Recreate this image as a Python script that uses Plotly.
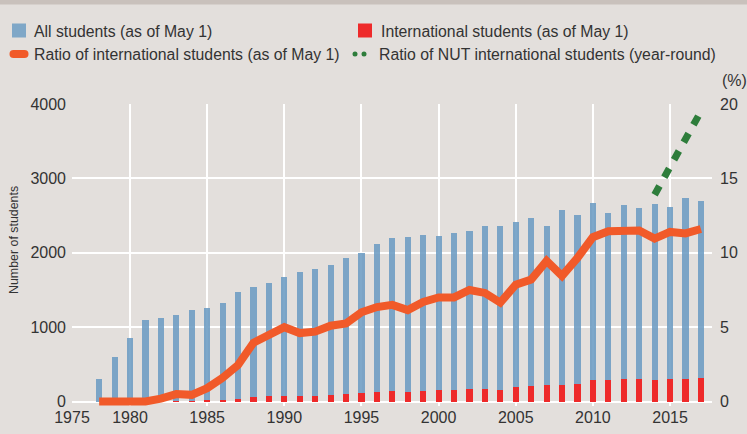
import plotly.graph_objects as go

# ---------------- data ----------------
years = list(range(1978, 2018))
all_students = [298, 594, 849, 1095, 1122, 1170, 1230, 1253, 1330, 1476,
                1541, 1593, 1680, 1740, 1785, 1830, 1925, 2000, 2115, 2195,
                2208, 2238, 2225, 2265, 2298, 2362, 2362, 2410, 2466, 2359,
                2574, 2507, 2668, 2534, 2648, 2604, 2662, 2612, 2735, 2695]
intl_students = [0, 0, 0, 0, 2, 6, 5, 10, 22, 36,
                 60, 71, 80, 76, 80, 88, 101, 114, 128, 140,
                 132, 145, 155, 160, 172, 172, 159, 191, 204, 222,
                 218, 239, 293, 293, 302, 302, 293, 298, 302, 312]
intl_ratio = [0, 0, 0, 0, 0.2, 0.5, 0.45, 0.9, 1.6, 2.45,
              3.95, 4.5, 5.0, 4.6, 4.7, 5.1, 5.25, 6.0, 6.35, 6.5,
              6.15, 6.7, 7.0, 7.0, 7.5, 7.3, 6.65, 7.85, 8.2, 9.45,
              8.45, 9.65, 11.05, 11.45, 11.45, 11.5, 10.95, 11.4, 11.3, 11.6]
nut_years = [2014, 2015, 2016, 2017]
nut_ratio = [13.9, 15.7, 17.6, 19.5]

x_tick_labels = ["1975", "1980", "1985", "1990", "1995", "2000", "2005", "2010", "2015", ""]
y_left_ticks = [0, 1000, 2000, 3000, 4000]
y_right_ticks = [0, 5, 10, 15, 20]

legend_labels = ["All students (as of May 1)",
                 "International students (as of May 1)",
                 "Ratio of international students (as of May 1)",
                 "Ratio of NUT international students (year-round)"]

# ---------------- layout geometry ----------------
W, H = 747, 434
L, R, T, B = 72, 35, 104, 28
PW, PH = W - L - R, H - T - B
X_RANGE = [1976.24, 2017.72]
x_tick_vals = [X_RANGE[0] + 0.001, 1980, 1985, 1990, 1995, 2000, 2005, 2010, 2015, X_RANGE[1] - 0.001]


def px(x):
    return (x - L) / PW


def py(y):
    return (H - B - y) / PH


BG = "#e3dfdc"
BLUE = "#6d9dc3"
RED = "#ee2a2a"
ORANGE = "#f15a29"
GREEN = "#2e7d3b"
TXT = "#333333"
FONT = "Liberation Sans, Arial, sans-serif"

fig = go.Figure()
fig.add_trace(go.Bar(x=years, y=all_students, width=0.4, marker=dict(color=BLUE, line=dict(width=0)),
                     opacity=0.88, name=legend_labels[0], showlegend=False))
fig.add_trace(go.Bar(x=years, y=intl_students, width=0.4, marker=dict(color=RED, line=dict(width=0)),
                     name=legend_labels[1], showlegend=False))
fig.add_trace(go.Scatter(x=years, y=intl_ratio, yaxis="y2", mode="lines",
                         line=dict(color=ORANGE, width=8), name=legend_labels[2], showlegend=False))
fig.add_trace(go.Scatter(x=nut_years, y=nut_ratio, yaxis="y2", mode="lines",
                         line=dict(color=GREEN, width=7, dash="10px,10px"), name=legend_labels[3],
                         showlegend=False))

shapes = []
# top band
shapes.append(dict(type="rect", xref="paper", yref="paper", x0=px(0), x1=px(W), y0=py(0), y1=py(4.5),
                   fillcolor="#c9c1bc", line=dict(width=0)))
# legend icons
shapes.append(dict(type="rect", xref="paper", yref="paper", x0=px(12), x1=px(26), y0=py(23.5), y1=py(37.5),
                   fillcolor="#7fa7c7", line=dict(width=0)))
shapes.append(dict(type="rect", xref="paper", yref="paper", x0=px(358), x1=px(372), y0=py(23.5), y1=py(37.5),
                   fillcolor=RED, line=dict(width=0)))
shapes.append(dict(type="circle", xref="paper", yref="paper", x0=px(9.5), x1=px(17.5), y0=py(50), y1=py(58),
                   fillcolor=ORANGE, line=dict(width=0)))
shapes.append(dict(type="rect", xref="paper", yref="paper", x0=px(13.5), x1=px(24.5), y0=py(50), y1=py(58),
                   fillcolor=ORANGE, line=dict(width=0)))
shapes.append(dict(type="circle", xref="paper", yref="paper", x0=px(20.5), x1=px(28.5), y0=py(50), y1=py(58),
                   fillcolor=ORANGE, line=dict(width=0)))
for cx in (355, 364):
    shapes.append(dict(type="circle", xref="paper", yref="paper", x0=px(cx - 2.5), x1=px(cx + 2.5),
                       y0=py(51.5), y1=py(56.5), fillcolor=GREEN, line=dict(width=0)))

annotations = []
leg_pos = [(32, 31), (379, 31), (32, 54), (377, 54)]
for (lx, ly), text in zip(leg_pos, legend_labels):
    annotations.append(dict(text=text, xref="paper", yref="paper", x=px(lx), y=py(ly),
                            xanchor="left", yanchor="middle", showarrow=False,
                            font=dict(family=FONT, size=15.8, color=TXT)))
annotations.append(dict(text="(%)", xref="paper", yref="paper", x=px(734), y=py(81),
                        xanchor="center", yanchor="middle", showarrow=False,
                        font=dict(family=FONT, size=16, color=TXT)))
annotations.append(dict(text="Number of students", xref="paper", yref="paper", x=px(14), y=py(240),
                        xanchor="center", yanchor="middle", textangle=-90, showarrow=False,
                        font=dict(family=FONT, size=12.4, color=TXT)))

fig.update_layout(
    width=W, height=H,
    margin=dict(l=L, r=R, t=T, b=B, autoexpand=False),
    paper_bgcolor=BG, plot_bgcolor=BG,
    barmode="overlay", bargap=0,
    showlegend=False,
    hovermode=False,
    font=dict(family=FONT, size=16, color=TXT),
    xaxis=dict(range=X_RANGE, tickmode="array", tickvals=x_tick_vals, ticktext=x_tick_labels,
               showgrid=True, gridcolor="white", gridwidth=1.5, zeroline=False, showline=False,
               ticks="", tickfont=dict(size=16, color=TXT)),
    yaxis=dict(range=[-60, 4000], tickmode="array", tickvals=y_left_ticks,
               showgrid=True, gridcolor="white", gridwidth=1.5, zeroline=False, showline=False,
               ticks="", ticklabelstandoff=5, tickfont=dict(size=16, color=TXT)),
    yaxis2=dict(range=[-0.3, 20], overlaying="y", side="right", tickmode="array", tickvals=y_right_ticks,
                showgrid=False, zeroline=False, showline=False, ticks="", ticklabelstandoff=7,
                tickfont=dict(size=16, color=TXT)),
    shapes=shapes,
    annotations=annotations,
)

fig.write_html("out.html", config={"displayModeBar": False},
               post_script="document.body.style.margin='0';document.body.style.background='%s';" % BG)
